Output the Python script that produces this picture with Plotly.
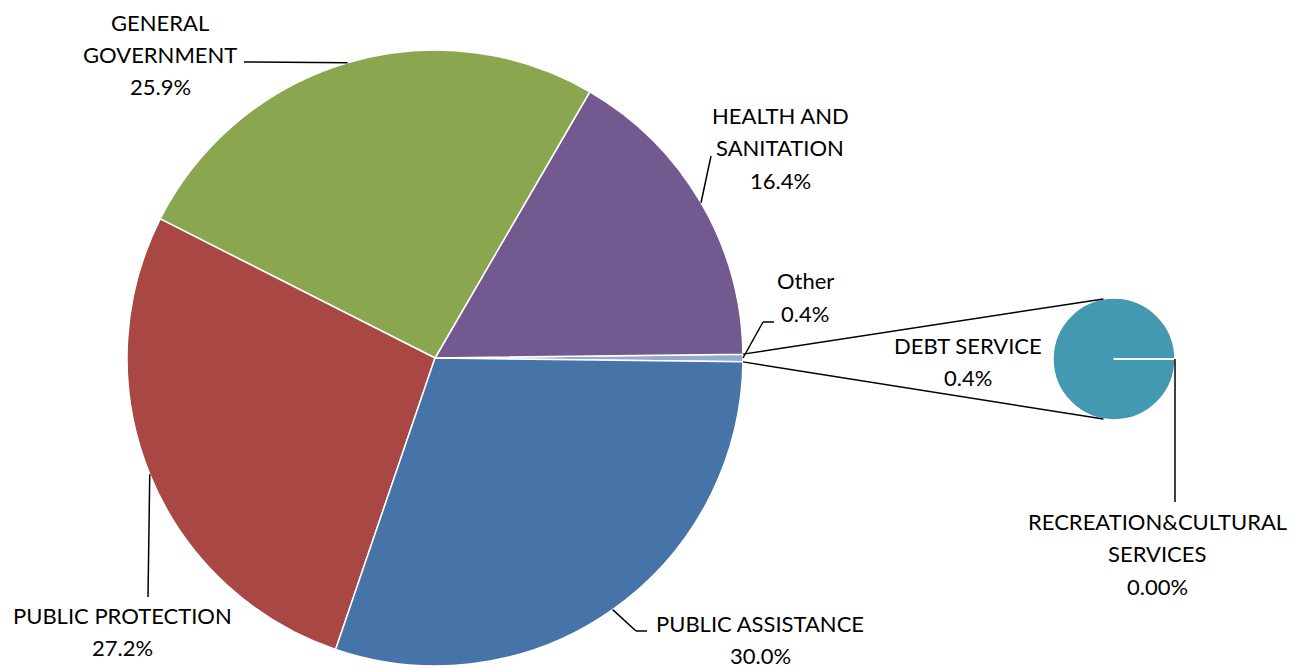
import math
import plotly.graph_objects as go

# ---------------- data ----------------
main_names = ["Other", "HEALTH AND\nSANITATION", "GENERAL\nGOVERNMENT",
              "PUBLIC PROTECTION", "PUBLIC ASSISTANCE"]
main_values = [0.4, 16.4, 25.9, 27.2, 30.0]
main_decimals = [1, 1, 1, 1, 1]
main_colors = ["#94a9d0", "#72598f", "#8aa64e", "#a94745", "#4673a8"]

sub_names = ["DEBT SERVICE", "RECREATION&CULTURAL\nSERVICES"]
sub_values = [0.4, 0.0]
sub_decimals = [1, 2]
sub_colors = ["#4399b1", "#4399b1"]

# ---------------- layout geometry (pixels, in the 1304x668 window) ----------------
OFF = 8                      # page body margin
W, H = 1304 - OFF, 668 - OFF  # figure size
MC = (435, 358); MR = 308    # main pie centre / radius
SC = (1114, 359); SR = 61    # secondary pie centre / radius
FONT = dict(family="Lato, 'Open Sans', sans-serif", size=22, color="#000000")
LINE_H = 32.5


def paper(x, y):
    return (x - OFF) / W, 1 - (y - OFF) / H


def domain(c, r):
    x0, y0 = paper(c[0] - r, c[1] + r)
    x1, y1 = paper(c[0] + r, c[1] - r)
    return dict(x=[x0, x1], y=[y0, y1])


def edge(c, r, deg):
    a = math.radians(deg)
    return c[0] + r * math.cos(a), c[1] - r * math.sin(a)


# slice angles (math convention, ccw from east), first slice centred at 3 o'clock
tot = sum(main_values)
half = main_values[0] / tot * 360 / 2
mids, bounds = [], []
cum = -half
for v in main_values:
    a1 = cum + v / tot * 360
    mids.append((cum + a1) / 2)
    bounds.append((cum, a1))
    cum = a1

# secondary pie starts at 3 o'clock
stot = sum(sub_values)
s_start = 0.0
s_mids = []
cum = s_start
for v in sub_values:
    a1 = cum + v / stot * 360
    s_mids.append((cum + a1) / 2)
    cum = a1

# plotly (counterclockwise): first slice's ccw end sits at `rotation` (clockwise from 12 o'clock)
fig = go.Figure()
fig.add_trace(go.Pie(
    labels=[n.replace("\n", " ") for n in main_names], values=main_values,
    sort=False, direction="counterclockwise", rotation=90 - half,
    marker=dict(colors=main_colors, line=dict(color="white", width=1.5)),
    textinfo="none", hoverinfo="label+percent", domain=domain(MC, MR),
    showlegend=False))
fig.add_trace(go.Pie(
    labels=[n.replace("\n", " ") for n in sub_names], values=sub_values,
    sort=False, direction="counterclockwise", rotation=90 - s_start,
    marker=dict(colors=sub_colors, line=dict(color="white", width=1.5)),
    textinfo="none", hoverinfo="label+value", domain=domain(SC, SR),
    showlegend=False))

shapes = []


def seg(p, q, color="black", width=1.5):
    x0, y0 = paper(*p)
    x1, y1 = paper(*q)
    shapes.append(dict(type="line", xref="paper", yref="paper", x0=x0, y0=y0,
                       x1=x1, y1=y1, line=dict(color=color, width=width)))


annotations = []


def label(cx, cy_first, text):
    for i, line in enumerate(text.split("\n")):
        x, y = paper(cx, cy_first + i * LINE_H)
        annotations.append(dict(x=x, y=y, xref="paper", yref="paper", text=line,
                                showarrow=False, xanchor="center", yanchor="middle",
                                font=FONT))


# label placement for main slices: (centre x, first-line y, leader path)
main_label_pos = {
    0: (805, 281, [(763, 322), (774, 322)]),
    1: (780, 115, [(711, 156)]),
    2: (160, 22, [(244, 62)]),
    3: (122, 615, [(148, 597)]),
    4: (760, 623, [(636, 631), (647, 631)]),
}
for i, (name, v) in enumerate(zip(main_names, main_values)):
    lx, ly, path = main_label_pos[i]
    label(lx, ly, name + "\n" + f"{v:.{main_decimals[i]}f}%")
    pts = [edge(MC, MR, mids[i])] + path
    for a, b in zip(pts[:-1], pts[1:]):
        seg(a, b)

# connector lines from the "Other" slice to the secondary pie
seg(edge(MC, MR, bounds[0][1]), edge(SC, SR, 100))
seg(edge(MC, MR, bounds[0][0]), edge(SC, SR, 260))

# zero-size slice boundary in the secondary pie
seg(SC, edge(SC, SR, s_start), color="white", width=2)

# secondary labels
label(968, 345, sub_names[0] + "\n" + f"{sub_values[0]:.{sub_decimals[0]}f}%")
label(1157, 521, sub_names[1] + "\n" + f"{sub_values[1]:.{sub_decimals[1]}f}%")
p0 = edge(SC, SR, s_mids[1])
seg(p0, (p0[0], 502))

fig.update_layout(
    width=W, height=H, margin=dict(l=0, r=0, t=0, b=0),
    paper_bgcolor="white", plot_bgcolor="white",
    shapes=shapes, annotations=annotations, showlegend=False)

fig.write_html("out.html")
